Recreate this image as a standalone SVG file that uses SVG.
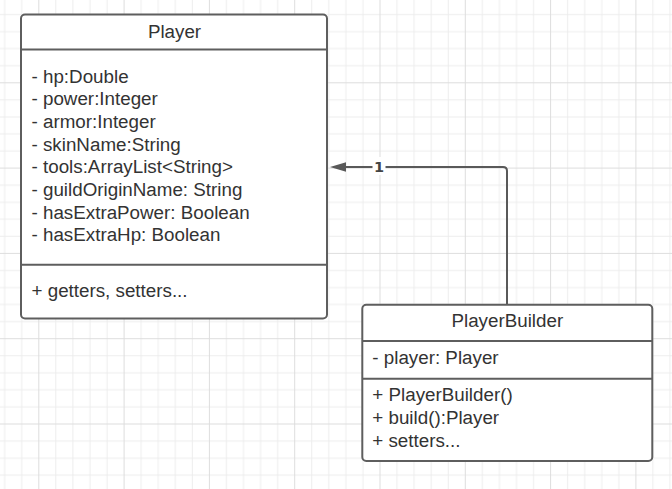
<svg xmlns="http://www.w3.org/2000/svg" width="672" height="489" viewBox="0 0 672 489">
<style>
.box{fill:#ffffff;stroke:#5e5e5e;stroke-width:2}
.div{stroke:#5e5e5e;stroke-width:2}
.t{font-family:"Liberation Sans",Arial,sans-serif;font-size:18.8px;fill:#333333}
.c{text-anchor:middle}
.conn{fill:none;stroke:#595959;stroke-width:2}
.lbl{font-family:"DejaVu Sans",sans-serif;font-size:14.5px;font-weight:bold;fill:#444444;text-anchor:middle}
</style>
<defs>
<pattern id="grid" x="38.3" y="82.3" width="85.3" height="85.3" patternUnits="userSpaceOnUse">
<path d="M17.56 0V85.3M34.62 0V85.3M51.68 0V85.3M68.74 0V85.3M0 17.56H85.3M0 34.62H85.3M0 51.68H85.3M0 68.74H85.3" stroke="#ededed" stroke-width="1"/>
<path d="M0.5 0V85.3M0 0.5H85.3" stroke="#dddddd" stroke-width="1"/>
</pattern>
</defs>
<rect width="672" height="489" fill="#ffffff"/>
<rect width="672" height="489" fill="url(#grid)"/>
<g id="connectors">
<path class="conn" d="M507 305V171Q507 167 503 167H345"/>
<path d="M330 167L346 162.3V171.7Z" fill="#595959"/>
<rect x="372.5" y="157" width="13" height="18" fill="#ffffff"/>
<text class="lbl" x="379" y="172">1</text>
</g>
<g id="Player">
<rect class="box" x="21" y="14.5" width="306" height="304" rx="4"/>
<line class="div" x1="21" y1="49.5" x2="327" y2="49.5"/>
<line class="div" x1="21" y1="264.7" x2="327" y2="264.7"/>
<text class="t c" x="174.5" y="37.5">Player</text>
<text class="t" x="31.5" y="82.5">- hp:Double</text>
<text class="t" x="31.5" y="105.2">- power:Integer</text>
<text class="t" x="31.5" y="127.9">- armor:Integer</text>
<text class="t" x="31.5" y="150.6">- skinName:String</text>
<text class="t" x="31.5" y="173.3">- tools:ArrayList&lt;String&gt;</text>
<text class="t" x="31.5" y="196">- guildOriginName: String</text>
<text class="t" x="31.5" y="218.7">- hasExtraPower: Boolean</text>
<text class="t" x="31.5" y="241.4">- hasExtraHp: Boolean</text>
<text class="t" x="31.5" y="296.7">+ getters, setters...</text>
</g>
<g id="PlayerBuilder">
<rect class="box" x="362.3" y="304.7" width="290" height="156.3" rx="4"/>
<line class="div" x1="362.3" y1="341" x2="652.3" y2="341"/>
<line class="div" x1="362.3" y1="378.7" x2="652.3" y2="378.7"/>
<text class="t c" x="507.3" y="326.7">PlayerBuilder</text>
<text class="t" x="372.3" y="364">- player: Player</text>
<text class="t" x="372.3" y="401">+ PlayerBuilder()</text>
<text class="t" x="372.3" y="423.5">+ build():Player</text>
<text class="t" x="372.3" y="446.5">+ setters...</text>
</g>
</svg>
